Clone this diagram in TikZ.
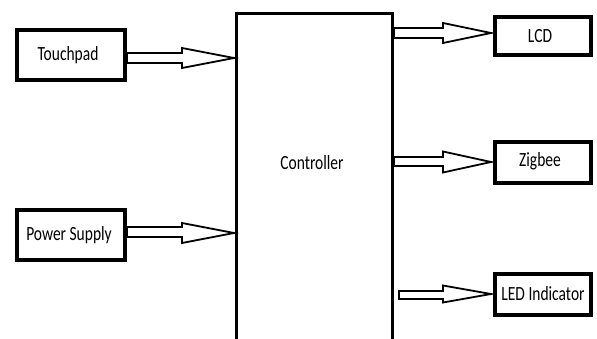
\documentclass[tikz,border=0pt]{standalone}
\usepackage{fontspec}
\setmainfont{Carlito}
\usetikzlibrary{calc}
\tikzset{
  box/.style={draw=black, line width=4pt, fill=white, inner sep=0pt, align=center},
  ctrlbox/.style={draw=black, line width=3pt, inner sep=0pt},
  arrowline/.style={draw=black, line width=1.8pt, fill=white, line join=miter},
  lbl/.style={font=\fontsize{15.5}{17}\selectfont, inner sep=0pt},
}
\newcommand\stretchtxt[1]{\scalebox{1}[1.3]{#1}}
% #1 start, #2 tip, #3 head length, #4 shaft half height, #5 head half height
\newcommand\blockarrow[5]{%
  \draw[arrowline] let \p1=#1, \p2=#2 in
    (\x1,\y1+#4) -- (\x2-#3,\y1+#4) -- (\x2-#3,\y2+#5) -- (\x2,\y2)
    -- (\x2-#3,\y2-#5) -- (\x2-#3,\y1-#4) -- (\x1,\y1-#4) -- cycle;}
\begin{document}
\begin{tikzpicture}[x=1pt,y=-1pt]
\useasboundingbox (0,0) rectangle (597,339);
\clip (0,0) rectangle (597,339);
\fill[white] (0,0) rectangle (597,339);
% controller (bottom edge lies outside the picture)
\node[ctrlbox, minimum width=156pt, minimum height=346.5pt] (ctrl) at (314.5,186.75) {};
\node[lbl] (ctrltxt) at (312,163) {\stretchtxt{Controller}};
% input boxes
\node[box, minimum width=108pt, minimum height=50pt] (tp) at (71,55) {};
\node[lbl] (tptxt) at (68,55) {\stretchtxt{Touchpad}};
\node[box, minimum width=108pt, minimum height=50pt] (ps) at (71,235) {};
\node[lbl] (pstxt) at (69,235) {\stretchtxt{Power Supply}};
% output boxes
\node[box, minimum width=96pt, minimum height=38pt] (lcd) at (543,36) {};
\node[lbl] (lcdtxt) at (540,36) {\stretchtxt{LCD}};
\node[box, minimum width=96pt, minimum height=41pt] (zig) at (543,162.5) {};
\node[lbl] (zigtxt) at (540,161) {\stretchtxt{Zigbee}};
\node[box, minimum width=96pt, minimum height=41pt] (led) at (543,294.5) {};
\node[lbl] (ledtxt) at (543,294) {\stretchtxt{LED Indicator}};
% block arrows
\blockarrow{($(tp.east)+(0,3)$)}{($(ctrl.west|-tp.east)+(-1,3)$)}{52pt}{5pt}{10pt}
\blockarrow{($(ps.east)+(0,-3)$)}{($(ctrl.west|-ps.east)+(-1,-2)$)}{52pt}{5pt}{10pt}
\blockarrow{($(ctrl.east|-lcd.west)+(0,-3)$)}{($(lcd.west)+(-2,-3)$)}{48pt}{5pt}{10pt}
\blockarrow{($(ctrl.east|-zig.west)+(0,-1)$)}{($(zig.west)+(-2,-0.5)$)}{48pt}{4.5pt}{10.5pt}
\blockarrow{($(ctrl.east|-led.west)+(5,0.5)$)}{($(led.west)+(-2,-0.5)$)}{48pt}{4pt}{8.5pt}
\end{tikzpicture}
\end{document}
